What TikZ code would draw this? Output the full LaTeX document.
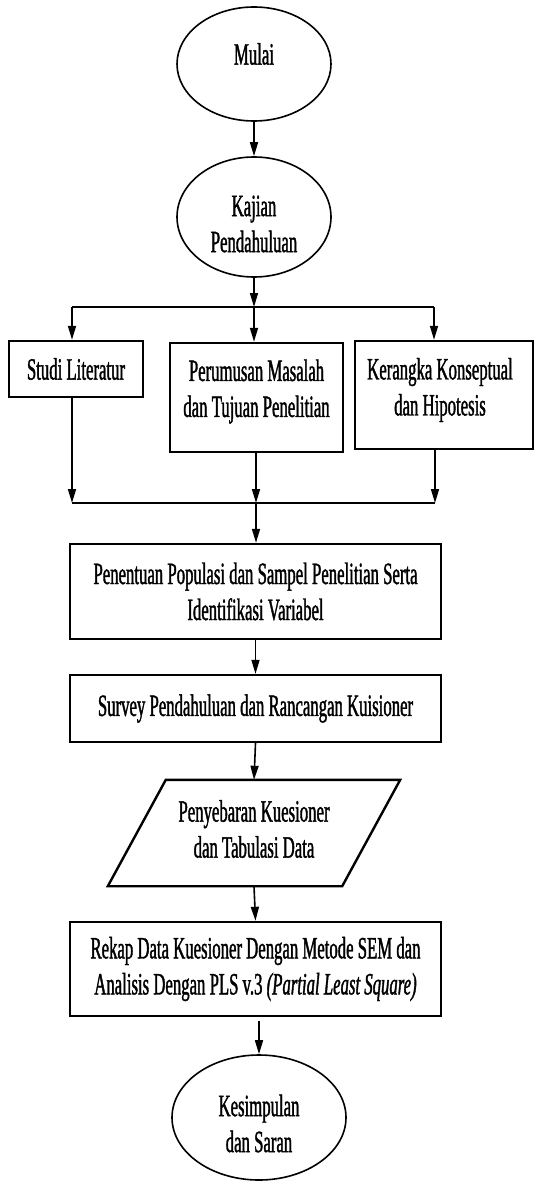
\documentclass[tikz,border=0pt]{standalone}
\usepackage{fontspec}
\setmainfont{Liberation Serif}[FakeStretch=0.54, FakeBold=1.2]
\usetikzlibrary{shapes.geometric,arrows.meta,calc}

\tikzset{
  term/.style={ellipse, draw, line width=1.6pt, inner sep=0pt},
  procbox/.style={rectangle, draw, line width=2.4pt, inner sep=0pt, align=center},
  txt/.style={align=center},
  flow/.style={line width=1.6pt},
  arr/.style={flow, -{Triangle[length=14pt,width=8pt]}},
}

\begin{document}
\begin{tikzpicture}[x=1pt, y=-1pt, font=\fontsize{31}{36}\selectfont]
\useasboundingbox (0,0) rectangle (534,1182);

% start and preliminary study
\node[term, minimum width=154pt, minimum height=114pt,
      label={[yshift=10pt]center:Mulai}] (mulai) at (254,64) {};
\node[term, minimum width=154pt, minimum height=120pt,
      label={[txt, yshift=-7pt]center:Kajian\\Pendahuluan}] (kajian) at (254,217) {};
\draw[arr] (mulai) -- (kajian);

% three parallel activities
\node[procbox, minimum width=134pt, minimum height=56pt] (studi) at (76,369) {Studi Literatur};
\node[procbox, minimum width=173pt, minimum height=109pt,
      label={[txt, yshift=6pt]center:Perumusan Masalah\\dan Tujuan Penelitian}] (peru) at (256.5,397.5) {};
\node[procbox, minimum width=178pt, minimum height=108pt,
      label={[txt, xshift=-4pt, yshift=5pt]center:Kerangka Konseptual\\dan Hipotesis}] (kera) at (444,395) {};

\coordinate (split) at (254,307);
\coordinate (jl) at (72,307);
\coordinate (jr) at (434,307);
\draw[arr] (kajian.south) -- (split);
\draw[flow] (jl) -- (jr);
\draw[arr] (jl) -- (jl |- studi.north);
\draw[arr] (split) -- (split |- peru.north);
\draw[arr] (jr) -- (jr |- kera.north);

% merging back
\coordinate (ml) at (72,503);
\coordinate (mm) at (256,503);
\coordinate (mr) at (435,503);
\draw[arr] (studi.south -| ml) -- (ml);
\draw[arr] (peru.south -| mm) -- (mm);
\draw[arr] (kera.south -| mr) -- (mr);
\draw[flow] (ml) -- (mr);

% main sequence
\node[procbox, minimum width=371pt, minimum height=95pt] (pene) at (255.5,591.5)
  {Penentuan Populasi dan Sampel Penelitian Serta\\Identifikasi Variabel};
\draw[arr] (mm) -- (mm |- pene.north);

\node[procbox, minimum width=371pt, minimum height=67pt] (surv) at (255.5,708.5)
  {Survey Pendahuluan dan Rancangan Kuisioner};
\draw[arr] (pene.south) -- (surv.north);

% data input (parallelogram)
\node[rectangle, inner sep=0pt, minimum width=292pt, minimum height=106pt,
      label={[txt, yshift=4pt]center:Penyebaran Kuesioner\\dan Tabulasi Data}] (spread) at (254,833) {};
\draw[line width=2.4pt, line join=miter]
  ($(spread.north west)+(58,0)$) -- (spread.north east)
  -- ($(spread.south east)+(-58,0)$) -- (spread.south west) -- cycle;
\draw[arr] (surv.south) -- (spread.north);

\node[procbox, minimum width=371pt, minimum height=94pt] (rekap) at (255.5,969)
  {Rekap Data Kuesioner Dengan Metode SEM dan\\Analisis Dengan PLS v.3 \textit{(Partial Least Square)}};
\draw[arr] (spread.south) -- (rekap.north);

% end
\node[term, minimum width=174pt, minimum height=125pt,
      label={[txt, yshift=-6pt]center:Kesimpulan\\dan Saran}] (kesim) at (259,1117.5) {};
\draw[arr] ([yshift=-4pt]kesim.north |- rekap.south) -- (kesim.north);
\end{tikzpicture}
\end{document}
